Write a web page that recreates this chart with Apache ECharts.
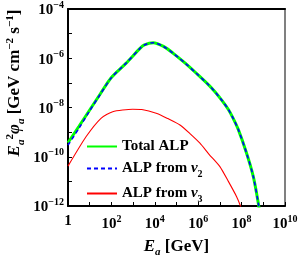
<!DOCTYPE html>
<html><head><meta charset="utf-8">
<script src="https://cdn.jsdelivr.net/npm/echarts@6/dist/echarts.min.js"></script>
<style>html,body{margin:0;padding:0;background:#fff}#c{width:300px;height:255px}</style>
</head><body><div id="c"></div>
<script>
// log10(E_a / GeV) and log10(E^2 phi)
const totalLogE = [0, 0.5, 1, 1.5, 2, 2.67, 3.32, 3.52, 3.93, 4.4, 4.85, 5.4, 5.9, 6.5, 6.77, 7.1, 7.39, 7.6, 7.85, 8.23, 8.54, 8.77, 8.85];
const totalLogY = [-9.43, -8.77, -8.1, -7.43, -6.78, -6.21, -5.60, -5.46, -5.37, -5.52, -5.80, -6.2, -6.6, -7.1, -7.36, -7.72, -8.08, -8.42, -8.9, -9.86, -10.81, -11.89, -12.4];
const nu2LogE = [0, 0.5, 1, 1.5, 2, 2.67, 3.32, 3.52, 3.93, 4.4, 4.85, 5.4, 5.9, 6.5, 6.77, 7.1, 7.39, 7.6, 7.85, 8.23, 8.54, 8.77, 8.85];
const nu2LogY = [-9.53, -8.85, -8.13, -7.45, -6.79, -6.21, -5.60, -5.46, -5.37, -5.52, -5.80, -6.2, -6.6, -7.1, -7.36, -7.72, -8.08, -8.42, -8.9, -9.86, -10.81, -11.89, -12.4];
const nu3LogE = [0, 0.83, 1.52, 2.06, 2.98, 3.4, 4.1, 4.6, 5.16, 5.62, 6.08, 6.5, 7.0, 7.39, 7.77, 7.93, 8.05];
const nu3LogY = [-10.38, -9.19, -8.44, -8.17, -8.07, -8.08, -8.24, -8.45, -8.71, -9.06, -9.45, -9.9, -10.40, -11.0, -11.62, -11.96, -12.3];
const seriesNames = ['Total ALP', 'ALP from ν2', 'ALP from ν3'];
const xTickExps = [0, 2, 4, 6, 8, 10];
const yTickExps = [-12, -10, -8, -6, -4];

const toPts = (lx, ly) => lx.map((v, i) => [Math.pow(10, v), Math.pow(10, ly[i])]);
const FONT = 'Liberation Serif';
const richTick = {
  b: {fontFamily: FONT, fontWeight: 'bold', fontSize: 15, color: '#000', verticalAlign: 'bottom'},
  s: {fontFamily: FONT, fontWeight: 'bold', fontSize: 10, color: '#000', verticalAlign: 'bottom', padding: [0, 0, 8, 0]}
};
function tickFmt(list) {
  return function (v) {
    const e = Math.round(Math.log10(v));
    if (list.indexOf(e) < 0) return '';
    if (e === 0) return '{b|1}';
    return '{b|10}{s|' + (e < 0 ? '−' : '') + Math.abs(e) + '}';
  };
}
const chart = echarts.init(document.getElementById('c'));
chart.setOption({
  animation: false,
  grid: {left: 68, top: 9, right: 15, bottom: 49, containLabel: false, outerBoundsMode: 'none'},
  xAxis: [{
    type: 'log', logBase: 10, min: 1, max: 1e10, interval: 1, splitNumber: 10,
    axisLine: {lineStyle: {color: '#000', width: 2}},
    axisTick: {inside: true, length: 4, lineStyle: {color: '#000', width: 1}},
    splitLine: {show: false}, minorTick: {show: false},
    axisLabel: {formatter: tickFmt(xTickExps), rich: richTick, margin: 8, showMinLabel: true, showMaxLabel: true},
    name: '{e|E}{sub|a}{t| [GeV]}', nameLocation: 'middle', nameGap: 32,
    nameTextStyle: {rich: {
      e: {fontFamily: FONT, fontWeight: 'bold', fontStyle: 'italic', fontSize: 17, color: '#000', verticalAlign: 'bottom'},
      sub: {fontFamily: FONT, fontWeight: 'bold', fontStyle: 'italic', fontSize: 11, color: '#000', verticalAlign: 'bottom', padding: [0, 0, -3, 0]},
      t: {fontFamily: FONT, fontWeight: 'bold', fontSize: 17, color: '#000', verticalAlign: 'bottom'}
    }}
  }, {
    type: 'log', logBase: 10, min: 1, max: 1e10, position: 'top',
    axisLine: {lineStyle: {color: '#000', width: 2}}, axisTick: {show: false}, axisLabel: {show: false}, splitLine: {show: false}
  }],
  yAxis: [{
    type: 'log', logBase: 10, min: 1e-12, max: 1e-4, interval: 1, splitNumber: 8,
    axisLine: {lineStyle: {color: '#000', width: 2}},
    axisTick: {inside: true, length: 4, lineStyle: {color: '#000', width: 1}},
    splitLine: {show: false}, minorTick: {show: false},
    axisLabel: {formatter: tickFmt(yTickExps), rich: richTick, margin: 4, showMinLabel: true, showMaxLabel: true}
  }, {
    type: 'log', logBase: 10, min: 1e-12, max: 1e-4, position: 'right',
    axisLine: {lineStyle: {color: '#808080', width: 2}}, axisTick: {show: false}, axisLabel: {show: false}, splitLine: {show: false}
  }],
  legend: {
    orient: 'vertical', left: 81, top: 134, itemWidth: 30, itemHeight: 15, itemGap: 7,
    data: seriesNames,
    itemStyle: {color: 'rgba(0,0,0,0)', borderColor: 'rgba(0,0,0,0)', borderWidth: 0},
    formatter: function (n) {
      if (n === 'Total ALP') return '{t|Total ALP}';
      return '{t|ALP from }{n|ν}{s|' + n.slice(-1) + '}';
    },
    textStyle: {rich: {
      t: {fontFamily: FONT, fontWeight: 'bold', fontSize: 15, color: '#000', verticalAlign: 'bottom'},
      n: {fontFamily: FONT, fontWeight: 'bold', fontStyle: 'italic', fontSize: 15, color: '#000', verticalAlign: 'bottom'},
      s: {fontFamily: FONT, fontWeight: 'bold', fontSize: 10, color: '#000', verticalAlign: 'bottom', padding: [0, 0, -3, 0]}
    }}
  },
  graphic: [{
    type: 'text', x: 14, y: 83, rotation: Math.PI / 2,
    style: {
      text: '{e|E}{sub|a}{sup|2}{e|φ}{sub|a}{t| [GeV cm}{sup|−2}{t| s}{sup|−1}{t|]}',
      align: 'center', verticalAlign: 'middle',
      rich: {
        e: {fontFamily: FONT, fontWeight: 'bold', fontStyle: 'italic', fontSize: 17, fill: '#000', verticalAlign: 'bottom'},
        sub: {fontFamily: FONT, fontWeight: 'bold', fontStyle: 'italic', fontSize: 11, fill: '#000', verticalAlign: 'bottom', padding: [0, 0, -3, 0]},
        sup: {fontFamily: FONT, fontWeight: 'bold', fontSize: 11, fill: '#000', verticalAlign: 'bottom', padding: [0, 0, 8, 0]},
        t: {fontFamily: FONT, fontWeight: 'bold', fontSize: 17, fill: '#000', verticalAlign: 'bottom'}
      }
    }
  }],
  series: [{
    name: seriesNames[0], type: 'line', data: toPts(totalLogE, totalLogY), symbol: 'none', smooth: 0.3,
    lineStyle: {color: '#00ff00', width: 3}, itemStyle: {color: '#00ff00'}, clip: true, z: 2
  }, {
    name: seriesNames[1], type: 'line', data: toPts(nu2LogE, nu2LogY), symbol: 'none', smooth: 0.3,
    lineStyle: {color: '#0000ff', width: 1.6, type: [4, 3]}, itemStyle: {color: '#0000ff'}, clip: true, z: 3
  }, {
    name: seriesNames[2], type: 'line', data: toPts(nu3LogE, nu3LogY), symbol: 'none', smooth: 0.2,
    lineStyle: {color: '#ff0000', width: 1.1}, itemStyle: {color: '#ff0000'}, clip: true, z: 2
  }]
});
</script></body></html>
